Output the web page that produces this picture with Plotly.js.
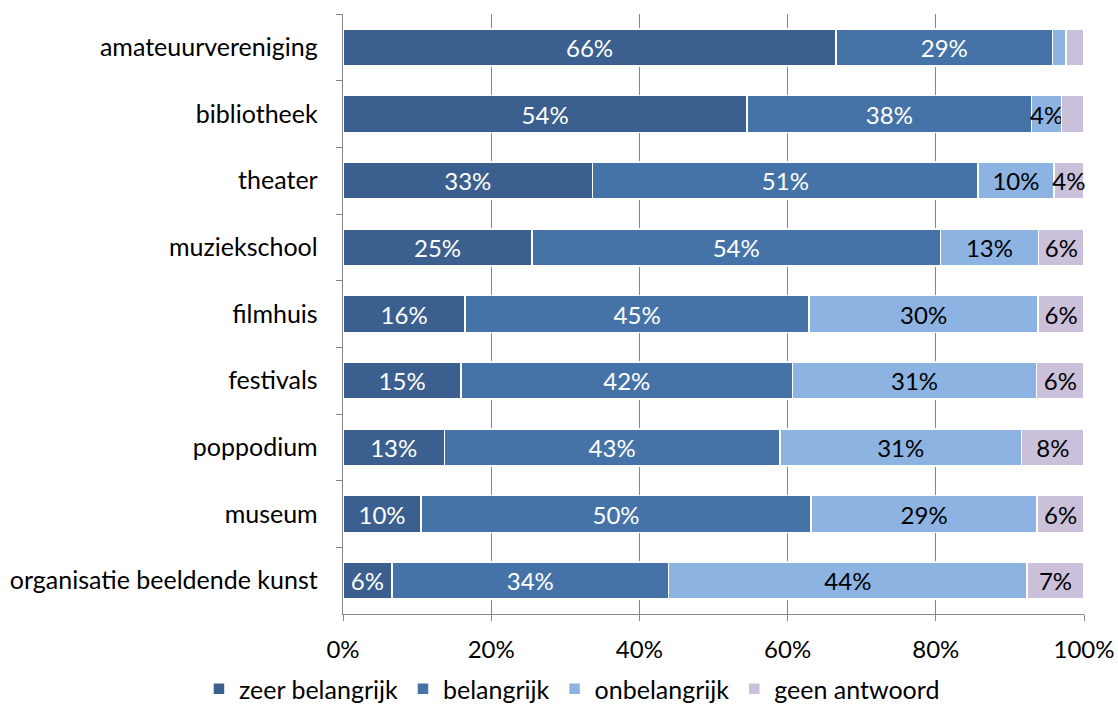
<!DOCTYPE html>
<html>
<head>
<meta charset="utf-8">
<script src="https://cdn.plot.ly/plotly-3.0.1.min.js"></script>
<style>html,body{margin:0;padding:0;background:#fff;}#chart{width:1118px;height:712px;}</style>
</head>
<body>
<div id="chart"></div>
<script>
const categories = ["amateuurvereniging","bibliotheek","theater","muziekschool","filmhuis","festivals","poppodium","museum","organisatie beeldende kunst"];
const seriesNames = ["zeer belangrijk","belangrijk","onbelangrijk","geen antwoord"];
const zeerBelangrijk = [66,54,33,25,16,15,13,10,6];
const belangrijk = [29,38,51,54,45,42,43,50,34];
const onbelangrijk = [1.8,4,10,13,30,31,31,29,44];
const geenAntwoord = [2.4,3,4,6,6,6,8,6,7];
const xTickVals = [0,20,40,60,80,100];
const xTickText = ["0%","20%","40%","60%","80%","100%"];

const colors = ["#3B5F8E","#4573A8","#8DB3E2","#CBC0DA"];
const textColors = ["#ffffff","#ffffff","#000000","#000000"];
const FONT = "Lato, 'Open Sans', sans-serif";

const allSeries = [zeerBelangrijk, belangrijk, onbelangrijk, geenAntwoord];
const traces = allSeries.map((vals, i) => ({
  type: "bar",
  orientation: "h",
  name: seriesNames[i],
  y: categories,
  x: vals,
  text: vals.map(v => v >= 3.5 ? Math.round(v) + "%" : ""),
  textposition: "inside",
  insidetextanchor: "middle",
  textangle: 0,
  constraintext: "none",
  cliponaxis: false,
  textfont: {family: FONT, size: 24, color: textColors[i]},
  marker: {color: colors[i], line: {color: "#ffffff", width: 1.5}},
  hoverinfo: "skip"
}));

const plotH = 600;
const layout = {
  width: 1118, height: 712,
  margin: {l: 343, r: 34, t: 0, b: 98},
  barmode: "stack",
  barnorm: "percent",
  bargap: 0.445,
  paper_bgcolor: "#ffffff",
  plot_bgcolor: "#ffffff",
  font: {family: FONT, size: 25, color: "#000000"},
  showlegend: true,
  legend: {orientation: "h", x: 0.309, xanchor: "center", y: -98/614, yanchor: "bottom",
           font: {family: FONT, size: 25, color: "#000000"}, traceorder: "normal",
           itemwidth: 30, borderwidth: 0},
  xaxis: {range: [0, 100.0005], tickvals: xTickVals, ticktext: xTickText,
          showgrid: true, gridcolor: "#868686", gridwidth: 1.3,
          showline: true, linecolor: "#868686", linewidth: 1.3,
          ticks: "outside", ticklen: 6, tickcolor: "#868686",
          ticklabelstandoff: 8,
          zeroline: false, fixedrange: true,
          tickfont: {family: FONT, size: 24, color: "#000000"}},
  yaxis: {autorange: "reversed", type: "category", domain: [0, plotH/614],
          showline: true, linecolor: "#868686", linewidth: 1.3,
          ticks: "outside", ticklen: 6, tickcolor: "#868686", tickson: "boundaries",
          showgrid: false, ticklabelstandoff: 19,
          tickfont: {family: FONT, size: 25, color: "#000000"}}
};

Plotly.newPlot("chart", traces, layout, {displayModeBar: false, staticPlot: true});
</script>
</body>
</html>
